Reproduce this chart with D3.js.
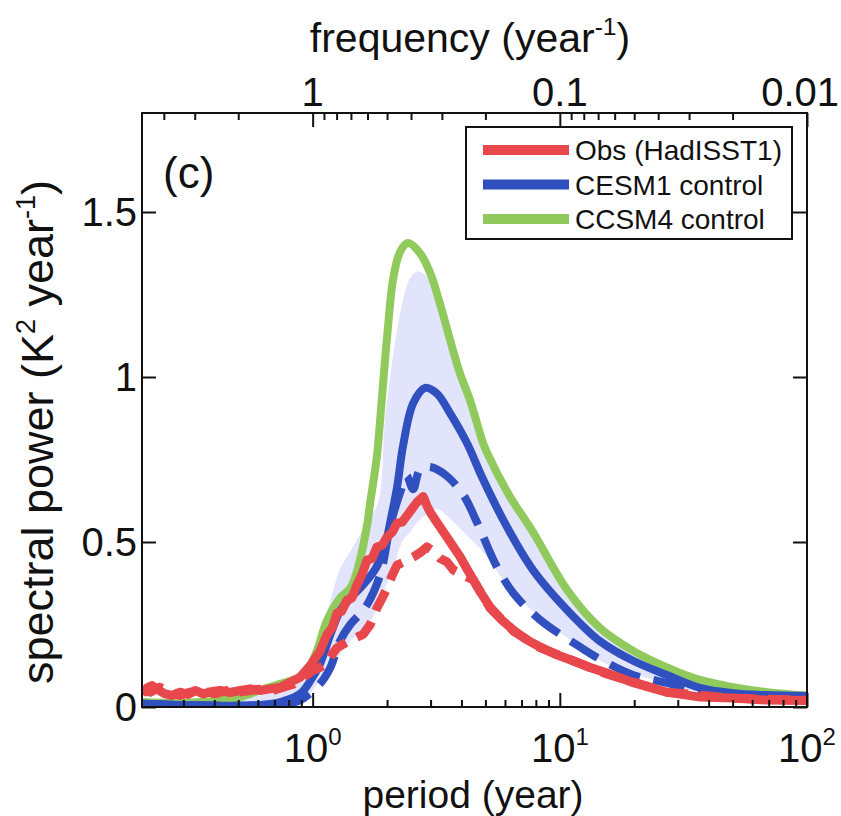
<!DOCTYPE html>
<html><head><meta charset="utf-8">
<script src="https://cdn.jsdelivr.net/npm/d3@7"></script>
<style>
body{margin:0;background:#fff}
text{font-family:"Liberation Sans",Arial,Helvetica,sans-serif;fill:#111}
</style>
</head><body>
<svg id="chart" width="841" height="816"></svg>
<script>
// ---------------- data (period in years, spectral power K^2 year^-1) ----------------
const seriesNames = ["Obs (HadISST1)", "CESM1 control", "CCSM4 control"];
const seriesColors = ["#e8474b", "#3050c0", "#90c95c"];

const obsPeriod = [0.204,0.214,0.224,0.237,0.253,0.27,0.291,0.314,0.335,0.361,0.392,0.423,0.464,0.509,0.559,0.613,0.673,0.739,0.811,0.89,0.977,1.072,1.144,1.20,1.256,1.31,1.378,1.44,1.512,1.58,1.66,1.74,1.82,1.91,2.0,2.10,2.195,2.30,2.41,2.52,2.64,2.80,2.9,2.99,3.18,3.28,3.49,3.95,4.2,4.47,4.8,5.22,5.8,6.49,7.3,8.32,9.6,11.3,13.2,15.5,20,27,37,50,69,100];
const obsPower  = [0.04,0.058,0.065,0.052,0.04,0.035,0.045,0.038,0.05,0.04,0.047,0.05,0.044,0.05,0.055,0.05,0.055,0.06,0.075,0.09,0.125,0.17,0.22,0.24,0.285,0.29,0.324,0.33,0.37,0.40,0.445,0.45,0.485,0.49,0.515,0.53,0.557,0.56,0.58,0.60,0.62,0.638,0.61,0.59,0.56,0.545,0.515,0.455,0.42,0.385,0.345,0.303,0.265,0.233,0.205,0.182,0.16,0.14,0.12,0.103,0.073,0.045,0.03,0.027,0.021,0.02];

const obs2Period = [0.204,0.22,0.24,0.26,0.29,0.32,0.36,0.40,0.45,0.50,0.56,0.62,0.69,0.76,0.84,0.92,1.0,1.07,1.144,1.20,1.256,1.378,1.512,1.60,1.71,1.82,1.91,2.0,2.1,2.195,2.35,2.56,2.75,2.9,3.1,3.28,3.49,3.71,4.21,4.47,5.22,6.49,8.32,11.3,15.5,27,50,100];
const obs2Power  = [0.05,0.045,0.06,0.05,0.035,0.045,0.05,0.04,0.05,0.045,0.05,0.055,0.05,0.06,0.07,0.09,0.11,0.12,0.133,0.16,0.18,0.197,0.212,0.22,0.25,0.30,0.33,0.36,0.40,0.43,0.44,0.455,0.47,0.485,0.47,0.45,0.44,0.415,0.394,0.385,0.30,0.23,0.18,0.14,0.10,0.045,0.027,0.02];

const cesmPeriod = [0.204,0.35,0.56,0.74,0.89,0.98,1.07,1.18,1.29,1.42,1.6,1.8,1.95,2.06,2.20,2.32,2.55,2.85,3.18,3.60,4.21,4.89,6.12,7.79,10.7,14.5,19.8,27.1,36.9,50.2,68.8,100];
const cesmPower  = [0.01,0.005,0.005,0.015,0.04,0.08,0.13,0.22,0.29,0.33,0.37,0.42,0.48,0.56,0.67,0.79,0.92,0.967,0.95,0.89,0.80,0.69,0.545,0.415,0.294,0.2,0.14,0.097,0.058,0.042,0.036,0.033];

const cesm2Period = [0.204,0.35,0.61,0.81,0.89,1.07,1.18,1.29,1.42,1.63,1.875,2.06,2.26,2.40,2.55,2.72,2.99,3.49,4.09,4.62,5.56,6.49,8.32,12.07,14.54,19.77,23.9,36.9,50.2,68.8,100];
const cesm2Power  = [0.01,0.005,0.005,0.012,0.02,0.07,0.12,0.2,0.25,0.30,0.40,0.55,0.65,0.70,0.66,0.72,0.727,0.70,0.64,0.56,0.425,0.345,0.264,0.182,0.145,0.097,0.082,0.052,0.04,0.03,0.025];

const ccsmPeriod = [0.204,0.29,0.35,0.42,0.51,0.61,0.74,0.89,0.95,1.04,1.14,1.29,1.42,1.51,1.66,1.71,1.82,1.875,2.0,2.12,2.26,2.43,2.72,2.99,3.28,3.70,3.95,4.33,4.89,5.08,6.2,7.79,10.7,14.5,19.8,27.1,36.9,50.2,68.8,100];
const ccsmPower  = [0.015,0.012,0.015,0.02,0.03,0.05,0.07,0.09,0.11,0.17,0.26,0.33,0.36,0.41,0.55,0.62,0.76,0.87,1.12,1.30,1.38,1.406,1.375,1.315,1.22,1.08,1.01,0.93,0.80,0.77,0.645,0.53,0.355,0.24,0.17,0.12,0.082,0.06,0.045,0.035];

const bandPeriod = [0.204,0.35,0.613,0.739,0.811,0.89,0.977,1.072,1.177,1.292,1.418,1.63,1.84,1.96,2.12,2.30,2.48,2.65,2.85,3.18,3.60,4.21,4.89,6.12,7.79,10.7,15.5,24.4,36.9,59,100];
const bandLow  = [0,0,0,0,0,0.01,0.04,0.08,0.12,0.16,0.2,0.24,0.3,0.36,0.42,0.50,0.53,0.56,0.58,0.60,0.57,0.52,0.47,0.37,0.29,0.21,0.13,0.08,0.045,0.03,0.022];
const bandHigh = [0.02,0.015,0.035,0.05,0.07,0.10,0.15,0.22,0.32,0.42,0.47,0.55,0.62,0.87,1.07,1.22,1.30,1.32,1.31,1.25,1.12,0.97,0.82,0.67,0.53,0.355,0.235,0.14,0.08,0.05,0.035];

const periodMajor = [1, 10, 100];
const periodMinor = [0.3,0.4,0.5,0.6,0.7,0.8,0.9,2,3,4,5,6,7,8,9,20,30,40,50,60,70,80,90];
const freqMajor = [1, 0.1, 0.01];
const freqMajorLabels = ["1", "0.1", "0.01"];
const freqMinor = [4,3,2,0.9,0.8,0.7,0.6,0.5,0.4,0.3,0.2,0.09,0.08,0.07,0.06,0.05,0.04,0.03,0.02];
const powerTicks = [0, 0.5, 1, 1.5];
const powerTickLabels = ["0", "0.5", "1", "1.5"];

// ---------------- layout ----------------
const W = 841;
const L = 142, R = 807, T = 113, B = 707;
const svg = d3.select("#chart");
const x = d3.scaleLog().domain([0.204, 100]).range([L, R]);
const xf = d3.scaleLog().domain([1/0.204, 0.01]).range([L, R]);
const y = d3.scaleLinear().domain([0, 1.8]).range([B, T]);

const defs = svg.append("defs");
defs.append("clipPath").attr("id","clip").append("rect")
  .attr("x", L).attr("y", T).attr("width", R-L).attr("height", B-T);

const plot = svg.append("g").attr("clip-path","url(#clip)");

// band
const bandData = bandPeriod.map((p,i)=>({p, lo:bandLow[i], hi:bandHigh[i]}));
plot.append("path").datum(bandData)
  .attr("fill","#e1e4fa")
  .attr("d", d3.area().x(d=>x(d.p)).y0(d=>y(d.lo)).y1(d=>y(d.hi)).curve(d3.curveCatmullRom));

function drawLine(P, V, color, width, dash, curve){
  const data = P.map((p,i)=>({p, v:V[i]}));
  plot.append("path").datum(data)
    .attr("fill","none").attr("stroke",color).attr("stroke-width",width)
    .attr("stroke-linejoin","round")
    .attr("stroke-dasharray", dash || null)
    .attr("d", d3.line().x(d=>x(d.p)).y(d=>y(d.v)).curve(curve));
}
drawLine(ccsmPeriod, ccsmPower, seriesColors[2], 8, null, d3.curveCatmullRom);
drawLine(cesmPeriod, cesmPower, seriesColors[1], 8, null, d3.curveCatmullRom);
drawLine(cesm2Period, cesm2Power, seriesColors[1], 8, "32,14", d3.curveCatmullRom);
drawLine(obs2Period, obs2Power, seriesColors[0], 9, "22,12", d3.curveLinear);
drawLine(obsPeriod, obsPower, seriesColors[0], 9, null, d3.curveLinear);

// ---------------- axes ----------------
function styleAxis(g){
  g.select(".domain").remove();
  g.selectAll(".tick line").attr("stroke","#111").attr("stroke-width",2);
}
svg.append("g").attr("transform",`translate(0,${B})`)
  .call(d3.axisBottom(x).tickValues(periodMajor).tickSize(-14).tickFormat("")).call(styleAxis);
svg.append("g").attr("transform",`translate(0,${B})`)
  .call(d3.axisBottom(x).tickValues(periodMinor).tickSize(-7).tickFormat("")).call(styleAxis);
svg.append("g").attr("transform",`translate(0,${T})`)
  .call(d3.axisTop(xf).tickValues(freqMajor).tickSize(-14).tickFormat("")).call(styleAxis);
svg.append("g").attr("transform",`translate(0,${T})`)
  .call(d3.axisTop(xf).tickValues(freqMinor).tickSize(-7).tickFormat("")).call(styleAxis);
svg.append("g").attr("transform",`translate(${L},0)`)
  .call(d3.axisLeft(y).tickValues(powerTicks).tickSize(-14).tickFormat("")).call(styleAxis);
svg.append("g").attr("transform",`translate(${R},0)`)
  .call(d3.axisRight(y).tickValues(powerTicks).tickSize(-14).tickFormat("")).call(styleAxis);

svg.append("rect").attr("x",L).attr("y",T).attr("width",R-L).attr("height",B-T)
  .attr("fill","none").attr("stroke","#111").attr("stroke-width",2);

// keep a centred label inside the canvas
function clampX(t){
  const bb = t.node().getBBox();
  if (bb.x + bb.width > W - 2) t.attr("x", +t.attr("x") - (bb.x + bb.width - (W - 2)));
}

// tick labels
const FS = 40;
periodMajor.forEach(p=>{
  const t = svg.append("text").attr("x", x(p)).attr("y", 762)
    .attr("text-anchor","middle").attr("font-size",FS);
  t.append("tspan").text("10");
  t.append("tspan").attr("font-size",FS*0.6).attr("dy",-17).text(String(Math.round(Math.log10(p))));
  clampX(t);
});
freqMajor.forEach((f,i)=>{
  const t = svg.append("text").attr("x", xf(f)).attr("y", 106).attr("text-anchor","middle")
    .attr("font-size",FS).text(freqMajorLabels[i]);
  clampX(t);
});
powerTicks.forEach((v,i)=>{
  svg.append("text").attr("x", 137).attr("y", y(v)).attr("dy","0.36em")
    .attr("text-anchor","end").attr("font-size",FS).text(powerTickLabels[i]);
});

// axis titles
const topTitle = svg.append("text").attr("x",470).attr("y",52).attr("text-anchor","middle").attr("font-size",41);
topTitle.append("tspan").text("frequency (year");
topTitle.append("tspan").attr("font-size",41*0.6).attr("dy",-17).text("-1");
topTitle.append("tspan").attr("dy",17).text(")");

svg.append("text").attr("x",473).attr("y",808).attr("text-anchor","middle").attr("font-size",39).text("period (year)");

const YF = 45;
const yTitle = svg.append("text").attr("transform","translate(53,432) rotate(-90)")
  .attr("text-anchor","middle").attr("font-size",YF);
yTitle.append("tspan").text("spectral power (K");
yTitle.append("tspan").attr("font-size",YF*0.6).attr("dy",-18).text("2");
yTitle.append("tspan").attr("dy",18).text(" year");
yTitle.append("tspan").attr("font-size",YF*0.6).attr("dy",-18).text("-1");
yTitle.append("tspan").attr("dy",18).text(")");

svg.append("text").attr("x",163).attr("y",188).attr("font-size",44).text("(c)");

// legend
const lg = svg.append("g");
lg.append("rect").attr("x",466).attr("y",127).attr("width",326).attr("height",112)
  .attr("fill","#fff").attr("stroke","#111").attr("stroke-width",2);
[0,1,2].forEach((k,i)=>{
  const yy = 150 + i*34.5;
  lg.append("line").attr("x1",483).attr("x2",569).attr("y1",yy).attr("y2",yy)
    .attr("stroke",seriesColors[k]).attr("stroke-width",10);
  lg.append("text").attr("x",575).attr("y",yy).attr("dy","0.36em").attr("font-size",28).text(seriesNames[k]);
});
</script>
</body></html>
